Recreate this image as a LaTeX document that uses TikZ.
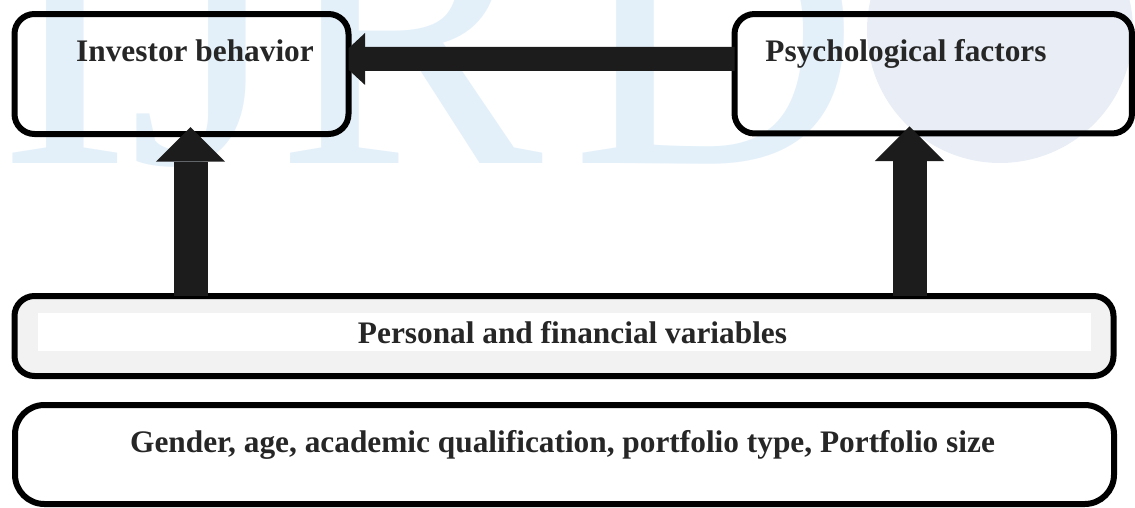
\documentclass[tikz,border=0pt]{standalone}
\usepackage{fontspec}
\setmainfont{Liberation Serif}
\usetikzlibrary{arrows.meta,calc}
\definecolor{ink}{HTML}{262626}
\definecolor{arrowfill}{HTML}{1C1C1C}
\definecolor{wmark}{HTML}{E3F0F9}
\definecolor{globe}{HTML}{E9EEF6}
\definecolor{panel}{HTML}{F2F2F2}
\begin{document}
\begin{tikzpicture}[x=0.75pt,y=-0.75pt,
  box/.style={draw=black, line width=4.5pt, rounded corners=15pt, outer sep=0pt, inner sep=0pt},
  lbl/.style={text=ink, font=\bfseries\fontsize{23.5}{28}\selectfont, inner sep=0pt, anchor=base},
  wm/.style={text=wmark, font=\fontsize{300}{300}\selectfont, inner sep=0pt, anchor=base west},
  fatup/.style={draw=arrowfill, line width=25.5pt,
    -{Triangle[width=52pt,length=26pt,line width=0pt,fill=arrowfill]}},
  fatleft/.style={draw=arrowfill, line width=18pt,
    -{Triangle[width=39pt,length=21pt,line width=0pt,fill=arrowfill]}}
]
\useasboundingbox (0,0) rectangle (1135,507);

% journal mark in the background
\fill[globe] (1000,30) circle[radius=133];
\node[wm] (wmI) at (-2,163) {I};
\node[wm] (wmJ) at (128,163) {J};
\node[wm] (wmR) at (276,163) {R};
\node[wm] (wmD) at (571,163) {D};

% boxes
\node[box, minimum width=250.5pt, minimum height=90pt] (inv) at (181.5,74) {};
\node[box, minimum width=298.1pt, minimum height=89.6pt] (psych) at (933.25,73.75) {};
\node[box, fill=panel, minimum width=824.25pt, minimum height=60pt] (pers) at (564,336) {};
\node[fill=white, inner sep=0pt, minimum width=789.75pt, minimum height=28.5pt] (persband) at (564.5,332) {};
\node[box, rounded corners=22pt, minimum width=824.25pt, minimum height=74.25pt] (attr) at (564.5,454.5) {};

% labels
\node[lbl] (invT) at (195,61) {Investor behavior};
\node[lbl] (psychT) at (906,61) {Psychological factors};
\node[lbl] (persT) at (572.5,343) {Personal and financial variables};
\node[lbl] (attrT) at (562.5,452) {Gender, age, academic qualification, portfolio type, Portfolio size};

% psychological factors -> investor behavior
\begin{scope}
  \clip (inv.north east) rectangle (psych.south west);
  \draw[fatleft, shorten >=-8.6pt] ($(psych.west)+(0,-15)$) -- ($(inv.east)+(0,-15)$);
\end{scope}

% personal and financial variables -> both upper boxes
\draw[fatup, shorten >=-5.25pt] ($(pers.north -| inv.south)+(9,0)$) -- ($(inv.south)+(9,0)$);
\draw[fatup, shorten >=-5.25pt] ($(pers.north -| psych.south)+(-23.75,0)$) -- ($(psych.south)+(-23.75,0)$);
\end{tikzpicture}
\end{document}
